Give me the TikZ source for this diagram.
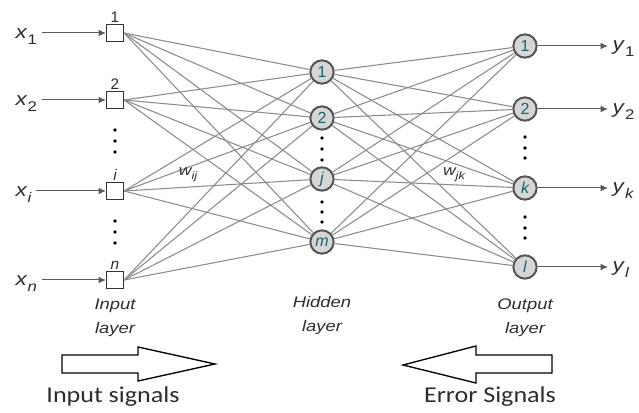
\documentclass[tikz,border=0pt]{standalone}
\usepackage{fontspec}
\setmainfont{Liberation Sans}
\newfontfamily\calibrifont{Carlito}
\usepackage{graphicx}
\usetikzlibrary{positioning,arrows.meta}

\definecolor{wiregray}{RGB}{140,140,140}
\definecolor{tealnum}{RGB}{25,100,105}
\definecolor{ringgray}{RGB}{85,85,85}
\definecolor{fillgray}{RGB}{214,214,214}
\definecolor{textgray}{RGB}{45,45,45}

\newcommand{\wide}[1]{\scalebox{1.2}[1]{#1}}
\newcommand{\lab}[2]{\wide{\textit{#1}\raisebox{-0.55ex}{\fontsize{10.5}{10.5}\selectfont #2}}}

\begin{document}
\begin{tikzpicture}[x=0.75pt,y=0.75pt,yscale=-1,xscale=1,
  inbox/.style={draw=black!80,fill=white,minimum size=12.5pt,inner sep=0pt,line width=1.1pt},
  neuron/.style={circle,draw=ringgray,fill=fillgray,line width=1.5pt,minimum size=17.5pt,inner sep=0pt,
    text=tealnum,font=\fontsize{12}{12}\selectfont\itshape},
  idx/.style={text=textgray,font=\fontsize{11.5}{11.5}\selectfont,inner sep=0.5pt},
  wire/.style={draw=wiregray,line width=0.8pt},
  sig/.style={draw=black!65,line width=0.75pt,-{Latex[length=5.5pt,width=5pt]}},
  iolab/.style={text=textgray,font=\fontsize{14}{14}\selectfont},
  layerlab/.style={text=textgray,align=center,font=\fontsize{11.5}{18}\selectfont\itshape},
  bigarrow/.style={draw=black,line width=1pt,line join=miter},
  sigtext/.style={text=textgray,font=\calibrifont\fontsize{17}{17}\selectfont}]
\useasboundingbox (0,0) rectangle (639,413);

% Input squares
\node[inbox] (in1) at (115,33) {};
\node[inbox] (in2) at (115,100) {};
\node[inbox] (ini) at (115,191) {};
\node[inbox] (inn) at (115,280) {};
\node[idx,above=0.5pt of in1] (ix1) {1};
\node[idx,above=0.5pt of in2] (ix2) {2};
\node[idx,above=0.5pt of ini] (ixi) {\itshape i};
\node[idx,above=0.5pt of inn] (ixn) {\itshape n};

% Hidden neurons
\node[neuron] (h1) at (322,72) {\upshape 1};
\node[neuron] (h2) at (322,118) {\upshape 2};
\node[neuron] (hj) at (322,179) {j};
\node[neuron] (hm) at (322,242) {m};

% Output neurons
\node[neuron] (o1) at (525,46) {\upshape 1};
\node[neuron] (o2) at (525,109) {\upshape 2};
\node[neuron] (ok) at (525,188) {k};
\node[neuron] (ol) at (525,267) {l};

% Weights
\foreach \a in {in1,in2,ini,inn}
  \foreach \b in {h1,h2,hj,hm}
    \draw[wire] (\a.east) -- (\b);
\foreach \a in {h1,h2,hj,hm}
  \foreach \b in {o1,o2,ok,ol}
    \draw[wire] (\a) -- (\b);

% Text Node
\node[iolab,anchor=base west] (x1) at (11,39) {\lab{x}{1}};
\node[iolab,anchor=base west] (x2) at (11,106) {\lab{x}{2}};
\node[iolab,anchor=base west] (xi) at (11,197) {\lab{x}{\itshape i}};
\node[iolab,anchor=base west] (xn) at (11,286) {\lab{x}{\itshape n}};
\draw[sig] (x1.east |- in1) -- (in1.west);
\draw[sig] (x2.east |- in2) -- (in2.west);
\draw[sig] (xi.east |- ini) -- (ini.west);
\draw[sig] (xn.east |- inn) -- (inn.west);

% Text Node
\node[iolab,anchor=base west] (y1) at (608,51) {\lab{y}{1}};
\node[iolab,anchor=base west] (y2) at (608,114) {\lab{y}{2}};
\node[iolab,anchor=base west] (yk) at (608,193) {\lab{y}{\itshape k}};
\node[iolab,anchor=base west] (yl) at (608,272) {\lab{y}{\itshape l}};
\draw[sig] (o1) -- (y1.west |- o1);
\draw[sig] (o2) -- (y2.west |- o2);
\draw[sig] (ok) -- (yk.west |- ok);
\draw[sig] (ol) -- (yl.west |- ol);

% dots
\foreach \y in {130,141,152,221,232,243}
  \fill (115,\y) circle (1.8);
\foreach \y in {138,149,160,202,212,222}
  \fill (322,\y) circle (1.8);
\foreach \y in {137,148,158,217,228,238}
  \fill (525,\y) circle (1.8);

% Text Node
\node[text=textgray] (wij) at (188,175) {\wide{\fontsize{11}{11}\selectfont\itshape w\raisebox{-0.5ex}{\fontsize{8}{8}\selectfont ij}}};
\node[text=textgray] (wjk) at (454,175) {\wide{\fontsize{11}{11}\selectfont\itshape w\raisebox{-0.5ex}{\fontsize{8}{8}\selectfont jk}}};

% Layer names
\node[layerlab] (inlayer) at (115,318) {\wide{Input}\\\wide{layer}};
\node[layerlab] (hidlayer) at (322,316) {\wide{Hidden}\\\wide{layer}};
\node[layerlab] (outlayer) at (525,318) {\wide{Output}\\\wide{layer}};

% Shape: signal arrows
\draw[bigarrow] (62,355) -- (138,355) -- (138,347) -- (215,364) -- (138,381) -- (138,373) -- (62,373) -- cycle;
\draw[bigarrow] (552,355) -- (476,355) -- (476,346) -- (403,365) -- (476,383) -- (476,373) -- (552,373) -- cycle;

% Text Node
\node[sigtext] (insig) at (113,397) {\scalebox{1.15}[1]{Input signals}};
\node[sigtext] (errsig) at (490,397) {\scalebox{1.15}[1]{Error Signals}};

\end{tikzpicture}
\end{document}
